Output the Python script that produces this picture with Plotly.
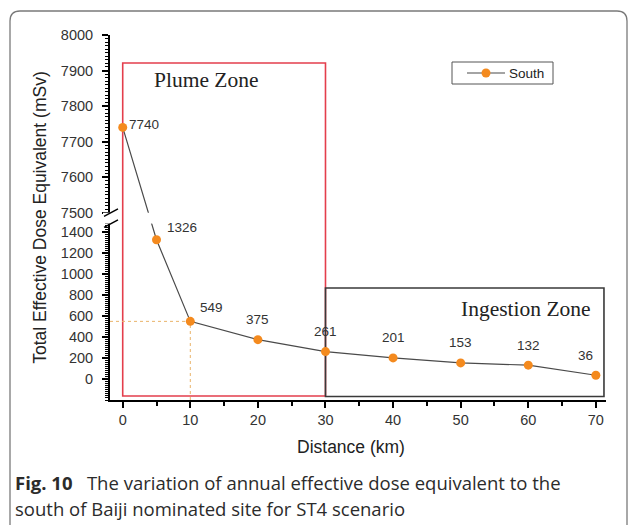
import plotly.graph_objects as go

# ---- data -----------------------------------------------------------------
distance_km = [0, 5, 10, 20, 30, 40, 50, 60, 70]
dose_msv = [7740, 1326, 549, 375, 261, 201, 153, 132, 36]
series_name = "South"

low_tick_vals = [0, 200, 400, 600, 800, 1000, 1200, 1400]
high_tick_vals = [7500, 7600, 7700, 7800, 7900, 8000]
x_tick_vals = [0, 10, 20, 30, 40, 50, 60, 70]

plume_zone_km = [0, 30]
ingestion_zone_km = [30, 71.2]
marked_point = (10, 549)

# ---- broken y axis: lower part linear, upper part compressed range --------
LOW_BOTTOM = -200
LOW_TOP = 1480          # lower segment ends here
HIGH_BOTTOM = 7500      # upper segment starts here
HIGH_TOP = 8000
HIGH_POS = 1583.8       # axis position where the upper segment starts
HIGH_SCALE = 3.385      # the upper segment is stretched by this factor


def to_axis(v):
    if v <= (LOW_TOP + HIGH_BOTTOM) / 2:
        return v
    return HIGH_POS + (v - HIGH_BOTTOM) * HIGH_SCALE


y_axis_vals = [to_axis(v) for v in dose_msv]
major_vals = low_tick_vals + high_tick_vals
minor_vals = [to_axis(v) for v in range(LOW_BOTTOM, LOW_TOP + 1, 20)] + \
             [to_axis(v) for v in range(HIGH_BOTTOM, HIGH_TOP + 1, 10)]

# ---- page geometry (pixels) ----------------------------------------------
WIDTH, HEIGHT = 630, 525
M_L, M_R, M_T, M_B = 110, 24, 35, 125
PW = WIDTH - M_L - M_R
PH = HEIGHT - M_T - M_B


def px_x(p):
    return (p - M_L) / PW


def px_y(p):
    return (M_T + PH - p) / PH


ARIAL = "Arial, Liberation Sans, sans-serif"
SERIF = "Times New Roman, Liberation Serif, serif"
ORANGE = "#F48A1E"
CURVE = "#4a4a4a"

fig = go.Figure()

fig.add_trace(go.Scatter(
    x=distance_km, y=y_axis_vals, name=series_name,
    mode="lines+markers",
    line=dict(color=CURVE, width=1.2),
    marker=dict(color=ORANGE, size=9, line=dict(width=0)),
    cliponaxis=False, showlegend=False,
))

# value labels next to each point
label_anchor = ["left", "left", "left", "center", "center", "center", "center", "center", "center"]
label_dx = [4, 8, 8, 0, 0, 0, 0, 0, -10]
label_dy = [3, 12, 14, 20, 20, 20, 20, 20, 20]
for xv, yv, anc, dx, dy in zip(distance_km, dose_msv, label_anchor, label_dx, label_dy):
    fig.add_annotation(
        x=xv, y=to_axis(yv), text=str(yv), showarrow=False,
        xanchor=anc, yanchor="middle", xshift=dx, yshift=dy,
        font=dict(family=ARIAL, size=13.5, color="#333333"),
    )

shapes = []
# zone boxes
shapes.append(dict(type="rect", xref="x", yref="paper",
                   x0=plume_zone_km[0], x1=plume_zone_km[1],
                   y0=px_y(396), y1=px_y(63),
                   line=dict(color="#E43E4C", width=1.6), layer="below"))
shapes.append(dict(type="rect", xref="x", yref="paper",
                   x0=ingestion_zone_km[0], x1=ingestion_zone_km[1],
                   y0=px_y(396.5), y1=px_y(288),
                   line=dict(color="#3a3a3a", width=1.6), layer="below"))
# dotted guides to the 10 km point
mx, my = marked_point
shapes.append(dict(type="line", xref="x", yref="y", x0=-1.88, x1=mx,
                   y0=to_axis(my), y1=to_axis(my),
                   line=dict(color="#E9B36A", width=1, dash="dot"), layer="below"))
shapes.append(dict(type="line", xref="x", yref="y", x0=mx, x1=mx,
                   y0=LOW_BOTTOM, y1=to_axis(my),
                   line=dict(color="#E9B36A", width=1, dash="dot"), layer="below"))
# gap in the curve where it crosses the axis break
shapes.append(dict(type="rect", xref="x", yref="y", x0=3.3, x1=4.7,
                   y0=LOW_TOP, y1=HIGH_POS, fillcolor="white",
                   line=dict(width=0), layer="above"))
# axis break: blank the axis between two slashes
shapes.append(dict(type="rect", xref="paper", yref="y", x0=px_x(103), x1=px_x(119),
                   y0=LOW_TOP, y1=HIGH_POS, fillcolor="white",
                   line=dict(width=0), layer="above"))
for yb in (LOW_TOP, HIGH_POS):
    shapes.append(dict(type="line", xref="paper", yref="y",
                       x0=px_x(104), x1=px_x(118), y0=yb - 36, y1=yb + 36,
                       line=dict(color="black", width=1.4), layer="above"))

# legend box with line-and-marker sample
shapes.append(dict(type="rect", xref="paper", yref="paper",
                   x0=px_x(452), x1=px_x(553), y0=px_y(84), y1=px_y(62),
                   fillcolor="white", line=dict(color="#555555", width=1), layer="above"))
shapes.append(dict(type="line", xref="paper", yref="paper",
                   x0=px_x(467), x1=px_x(505), y0=px_y(73), y1=px_y(73),
                   line=dict(color=CURVE, width=1.2), layer="above"))
shapes.append(dict(type="circle", xref="paper", yref="paper",
                   x0=px_x(481.5), x1=px_x(490.5), y0=px_y(77.5), y1=px_y(68.5),
                   fillcolor=ORANGE, line=dict(width=0), layer="above"))
fig.add_annotation(x=px_x(507), y=px_y(73), xref="paper", yref="paper",
                   text=series_name, showarrow=False, xanchor="left", yanchor="middle",
                   font=dict(family=ARIAL, size=13.5, color="#222222"))

# rounded page frame
fx0, fx1, fy0, fy1, r = 10, 627, 11, 532, 10
path = (f"M {px_x(fx0)} {px_y(fy1)} L {px_x(fx0)} {px_y(fy0 + r)} "
        f"Q {px_x(fx0)} {px_y(fy0)} {px_x(fx0 + r)} {px_y(fy0)} "
        f"L {px_x(fx1 - r)} {px_y(fy0)} "
        f"Q {px_x(fx1)} {px_y(fy0)} {px_x(fx1)} {px_y(fy0 + r)} "
        f"L {px_x(fx1)} {px_y(fy1)}")
shapes.append(dict(type="path", xref="paper", yref="paper", path=path,
                   line=dict(color="#7a7a7a", width=1.3), layer="above"))

fig.update_layout(shapes=shapes)

# zone titles
fig.add_annotation(x=4.3, y=px_y(80), xref="x", yref="paper", text="Plume Zone",
                   showarrow=False, xanchor="left", yanchor="middle",
                   font=dict(family=SERIF, size=21.5, color="#222222"))
fig.add_annotation(x=69.6, y=px_y(309), xref="x", yref="paper", text="Ingestion Zone",
                   showarrow=False, xanchor="right", yanchor="middle",
                   font=dict(family=SERIF, size=21.5, color="#222222"))

# x axis title
fig.add_annotation(x=px_x(351), y=px_y(447), xref="paper", yref="paper",
                   text="Distance (km)", showarrow=False,
                   xanchor="center", yanchor="middle",
                   font=dict(family=ARIAL, size=17.5, color="#222222"))

# caption
fig.add_annotation(x=px_x(13), y=px_y(482), xref="paper", yref="paper",
                   text="<b>Fig. 10</b>   The variation of annual effective dose equivalent to the",
                   showarrow=False, xanchor="left", yanchor="middle",
                   font=dict(family="Open Sans, sans-serif", size=18.5, color="#2b2b2b"))
fig.add_annotation(x=px_x(13), y=px_y(508), xref="paper", yref="paper",
                   text="south of Baiji nominated site for ST4 scenario",
                   showarrow=False, xanchor="left", yanchor="middle",
                   font=dict(family="Open Sans, sans-serif", size=18.5, color="#2b2b2b"))

fig.update_xaxes(
    range=[-1.88, 71.5], tickvals=x_tick_vals, ticktext=[str(v) for v in x_tick_vals],
    showline=True, linecolor="black", linewidth=2,
    ticks="outside", ticklen=6, tickwidth=1.5, tickcolor="black",
    minor=dict(tickmode="array", tickvals=[v + 5 for v in x_tick_vals[:-1]],
               ticks="outside", ticklen=3.5, tickwidth=1.5, tickcolor="black"),
    showgrid=False, zeroline=False,
    tickfont=dict(family=ARIAL, size=14.5, color="#333333"),
)
fig.update_yaxes(
    range=[LOW_BOTTOM, to_axis(HIGH_TOP)],
    tickmode="array", tickvals=[to_axis(v) for v in major_vals],
    ticktext=[str(v) for v in major_vals],
    showline=True, linecolor="black", linewidth=2,
    ticks="outside", ticklen=6, tickwidth=1.5, tickcolor="black",
    minor=dict(tickmode="array", tickvals=minor_vals,
               ticks="outside", ticklen=3, tickwidth=1, tickcolor="black"),
    showgrid=False, zeroline=False,
    tickfont=dict(family=ARIAL, size=14.5, color="#333333"),
    ticklabelstandoff=6,
    title=dict(text="Total Effective Dose Equivalent (mSv)", standoff=10,
               font=dict(family=ARIAL, size=17.5, color="#222222")),
)

fig.update_layout(
    width=WIDTH, height=HEIGHT, autosize=False,
    margin=dict(l=M_L, r=M_R, t=M_T, b=M_B),
    paper_bgcolor="white", plot_bgcolor="white",
    showlegend=False,
)

fig.write_html("out.html")
